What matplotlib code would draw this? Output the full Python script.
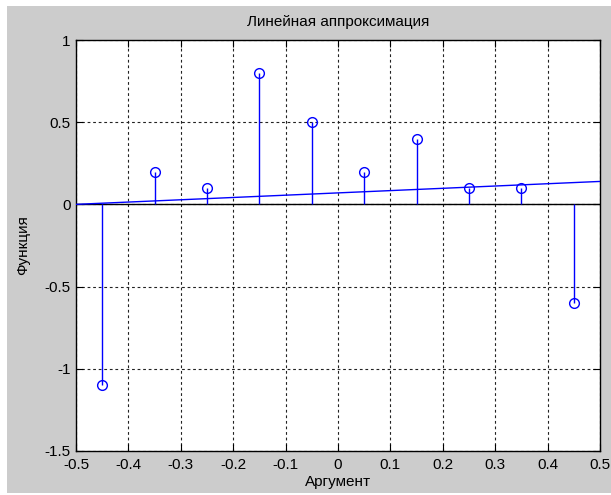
import numpy as np
import matplotlib
matplotlib.use("Agg")
import matplotlib.pyplot as plt
from matplotlib.patches import Rectangle

plt.rcParams['font.family'] = ['Liberation Sans', 'DejaVu Sans']

# Sample points and measured function values
x_vals = [-0.45, -0.35, -0.25, -0.15, -0.05, 0.05, 0.15, 0.25, 0.35, 0.45]
y_vals = [-1.1, 0.2, 0.1, 0.8, 0.5, 0.2, 0.4, 0.1, 0.1, -0.6]

x_ticks = [-0.5, -0.4, -0.3, -0.2, -0.1, 0, 0.1, 0.2, 0.3, 0.4, 0.5]
x_tick_labels = ["-0.5", "-0.4", "-0.3", "-0.2", "-0.1", "0", "0.1", "0.2", "0.3", "0.4", "0.5"]
y_ticks = [-1.5, -1, -0.5, 0, 0.5, 1]
y_tick_labels = ["-1.5", "-1", "-0.5", "0", "0.5", "1"]

# Least-squares linear fit over the full argument range
coef = np.polyfit(x_vals, y_vals, 1)
x_fit = np.array([-0.5, 0.5])
y_fit = np.polyval(coef, x_fit)

fig = plt.figure(figsize=(6.11, 4.95), dpi=100, facecolor='white')
fig.patches.append(Rectangle((7 / 611, 2 / 495), 604 / 611, 487 / 495,
                             transform=fig.transFigure, facecolor='#cccccc',
                             edgecolor='none', zorder=-10))

ax = fig.add_axes([76 / 611, 44 / 495, 524 / 611, 411 / 495])
ax.set_facecolor('white')

ax.plot(x_fit, y_fit, color='blue', linewidth=1, zorder=3)
ax.axhline(0, color='black', linewidth=1, zorder=2)
ax.vlines(x_vals, 0, y_vals, color='blue', linewidth=1, zorder=3)
ax.plot(x_vals, y_vals, linestyle='none', marker='o', markersize=7,
        markerfacecolor='none', markeredgecolor='blue', markeredgewidth=1, zorder=4)

ax.set_xlim(-0.5, 0.5)
ax.set_ylim(-1.5, 1)
ax.set_xticks(x_ticks)
ax.set_xticklabels(x_tick_labels)
ax.set_yticks(y_ticks)
ax.set_yticklabels(y_tick_labels)
ax.tick_params(direction='in', length=5, width=0.8, top=True, right=True,
               labelsize=11, colors='black')
ax.tick_params(axis='x', pad=5)
ax.tick_params(axis='y', pad=4)
ax.grid(True, color='#222222', linestyle=(0, (2.5, 2.5)), linewidth=0.8)
ax.set_axisbelow(True)
for s in ax.spines.values():
    s.set_linewidth(1)
    s.set_color('black')

ax.set_title("Линейная аппроксимация", fontsize=11, pad=10)
ax.set_xlabel("Аргумент", fontsize=11, labelpad=2)
ax.set_ylabel("Функция", fontsize=11, labelpad=10)

fig.savefig("out.png", dpi=100, facecolor='white')
